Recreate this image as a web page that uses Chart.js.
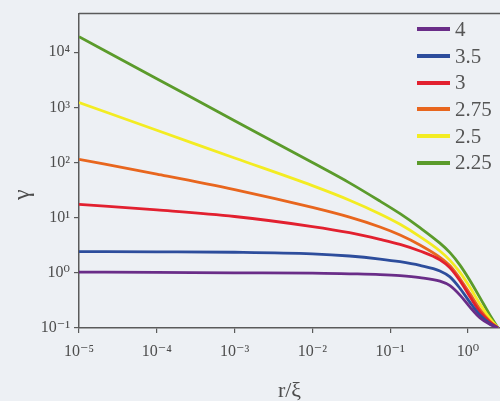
<!DOCTYPE html>
<html>
<head>
<meta charset="utf-8">
<script src="https://cdn.jsdelivr.net/npm/chart.js@4.4.1/dist/chart.umd.min.js"></script>
<style>
  html, body { margin: 0; padding: 0; background: #edf0f4; }
  #wrap { position: relative; width: 500px; height: 401px; }
  #legend { position: absolute; left: 417px; top: 16px; font-family: 'Liberation Serif', 'DejaVu Serif', serif; font-size: 21px; color: #555; }
  #legend .row { height: 26.7px; display: flex; align-items: center; }
  #legend .sw { width: 33px; height: 4px; margin-right: 5px; }
</style>
</head>
<body>
<div id="wrap">
  <canvas id="c" width="500" height="401"></canvas>
  <div id="legend"></div>
</div>
<script>
// r/xi sample positions
const rVals = [1e-5, 1e-4, 1e-3, 1e-2, 0.03, 0.074, 0.134, 0.241, 0.436, 0.587, 0.789, 1.06, 1.43, 1.92, 2.43];

// gamma for each exponent
const g4   = [1.03, 1.02, 1.0, 0.99, 0.96, 0.93, 0.89, 0.82, 0.705, 0.585, 0.394, 0.239, 0.152, 0.116, 0.1];
const g35  = [2.42, 2.40, 2.36, 2.21, 2.02, 1.78, 1.59, 1.36, 1.08, 0.843, 0.523, 0.292, 0.170, 0.12, 0.1];
const g3   = [17.4, 13.8, 10.5, 6.9, 5.34, 4.04, 3.28, 2.49, 1.72, 1.23, 0.717, 0.369, 0.194, 0.128, 0.1];
const g275 = [114, 61.8, 32.3, 15.3, 10.2, 6.77, 4.85, 3.2, 1.91, 1.34, 0.783, 0.42, 0.216, 0.131, 0.1];
const g25  = [1220, 385, 120.5, 38, 20.7, 11.7, 7.6, 4.54, 2.49, 1.68, 1.02, 0.547, 0.27, 0.148, 0.1];
const g225 = [19000, 3300, 573, 99.6, 42.7, 19.9, 11.8, 6.6, 3.45, 2.32, 1.38, 0.726, 0.351, 0.170, 0.1];

const seriesLabels = ['4', '3.5', '3', '2.75', '2.5', '2.25'];
const seriesData = [g4, g35, g3, g275, g25, g225];
const seriesColors = ['#6a2d88', '#2d4d9c', '#e2202f', '#e8661e', '#f3ec22', '#5b9b2b'];

const xTicks = [1e-5, 1e-4, 1e-3, 1e-2, 1e-1, 1];
const xTickLabels = ['10⁻⁵', '10⁻⁴', '10⁻³', '10⁻²', '10⁻¹', '10⁰'];
const yTicks = [1e-1, 1, 10, 100, 1000, 10000];
const yTickLabels = ['10⁻¹', '10⁰', '10¹', '10²', '10³', '10⁴'];

const FONT = "'Liberation Serif', 'DejaVu Serif', serif";
const INK = '#4d4d4d';
const AXIS = '#5a5a5a';

// top frame line (reference has a box edge on top only)
const topFrame = {
  id: 'topFrame',
  afterDraw(chart) {
    const a = chart.chartArea, ctx = chart.ctx;
    ctx.save();
    ctx.strokeStyle = AXIS;
    ctx.lineWidth = 1.5;
    ctx.beginPath();
    ctx.moveTo(a.left, a.top);
    ctx.lineTo(a.right, a.top);
    ctx.stroke();
    ctx.restore();
  }
};

new Chart(document.getElementById('c').getContext('2d'), {
  type: 'line',
  data: {
    datasets: seriesLabels.map((l, i) => ({
      label: l,
      data: rVals.map((r, j) => ({ x: r, y: seriesData[i][j] })),
      borderColor: seriesColors[i],
      borderWidth: 2.8,
      pointRadius: 0,
      cubicInterpolationMode: 'monotone',
      fill: false,
    })),
  },
  options: {
    responsive: false, animation: false,
    layout: { padding: { top: 12, right: 0, left: 0, bottom: 0 } },
    plugins: { legend: { display: false }, tooltip: { enabled: false } },
    scales: {
      x: {
        type: 'logarithmic', min: 1e-5, max: 2.58,
        afterBuildTicks: s => { s.ticks = xTicks.map(v => ({ value: v })); },
        afterFit: s => { s.height = 73; },
        ticks: {
          autoSkip: false, maxRotation: 0, padding: 9, color: INK,
          font: { family: FONT, size: 16 },
          callback: v => xTickLabels[xTicks.indexOf(v)] ?? '',
        },
        grid: { drawOnChartArea: false, tickLength: 5, color: AXIS, lineWidth: 1.2 },
        border: { color: AXIS, width: 1.5 },
        title: { display: true, text: 'r/ξ', color: INK, font: { family: FONT, size: 22 }, padding: { top: 0, bottom: -3 } },
      },
      y: {
        type: 'logarithmic', min: 0.1, max: 50000,
        afterBuildTicks: s => { s.ticks = yTicks.map(v => ({ value: v })); },
        afterFit: s => { s.width = 79; },
        ticks: {
          autoSkip: false, padding: 4, color: INK,
          font: { family: FONT, size: 16 },
          callback: v => yTickLabels[yTicks.indexOf(v)] ?? '',
        },
        grid: { drawOnChartArea: false, tickLength: 5, color: AXIS, lineWidth: 1.2 },
        border: { color: AXIS, width: 1.5 },
        title: { display: true, text: 'γ        ', color: INK, font: { family: FONT, size: 24 }, padding: { top: 8, bottom: 0 } },
      },
    },
  },
  plugins: [topFrame],
});

// legend, built from the same series arrays
document.getElementById('legend').innerHTML = seriesLabels.map((l, i) =>
  `<div class="row"><div class="sw" style="background:${seriesColors[i]}"></div><span>${l}</span></div>`
).join('');
</script>
</body>
</html>
